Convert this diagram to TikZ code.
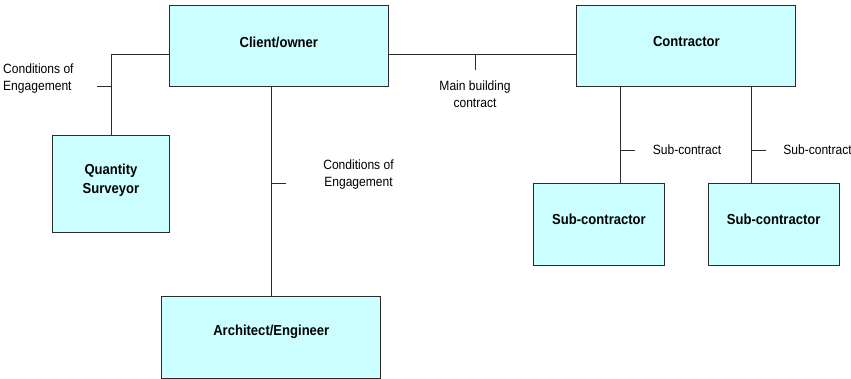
\documentclass[tikz,border=0pt]{standalone}
\usepackage{fontspec}
\setmainfont{Liberation Sans}[FakeStretch=0.9]
\usetikzlibrary{calc}
\definecolor{boxfill}{HTML}{CCFFFF}
\definecolor{inkline}{HTML}{2B2B2B}
\begin{document}
\begin{tikzpicture}[x=1pt,y=-1pt,
  party/.style={draw=inkline,line width=1pt,fill=boxfill,rectangle,inner sep=0pt},
  partytext/.style={font=\fontsize{14.5}{18.5}\selectfont\bfseries,align=center,inner sep=0pt},
  linkline/.style={draw=inkline,line width=0.9pt},
  linktext/.style={font=\fontsize{13.4}{16.5}\selectfont,align=center,inner sep=0pt}]
\useasboundingbox (0,0) rectangle (851,379);

% parties
\node[party,minimum width=219pt,minimum height=81pt] (client) at (278.8,46.2) {};
\node[party,minimum width=219pt,minimum height=81pt] (contractor) at (686.4,46.2) {};
\node[party,minimum width=116.6pt,minimum height=97.3pt] (qs) at (111,183.7) {};
\node[party,minimum width=218.7pt,minimum height=81.3pt] (arch) at (271.3,337.4) {};
\node[party,minimum width=131.4pt,minimum height=81.7pt] (sub1) at (599,224.2) {};
\node[party,minimum width=131.4pt,minimum height=81.7pt] (sub2) at (773.7,224.2) {};

\node[partytext] (clientname) at (278.8,42) {Client/owner};
\node[partytext] (contractorname) at (686.4,42) {Contractor};
\node[partytext] (qsname) at (111,180.5) {Quantity\\Surveyor};
\node[partytext] (archname) at (271.3,332) {Architect/Engineer};
\node[partytext] (sub1name) at (599,219.5) {Sub-contractor};
\node[partytext] (sub2name) at (773.7,219.5) {Sub-contractor};

% client -- quantity surveyor
\draw[linkline] ([yshift=-7.8pt]client.west) -| (qs.north);
\coordinate (qstick) at (111,86.7);
\draw[linkline] (qstick) -- ++(-14.3,0);
\node[linktext,align=left,anchor=west] (qslink) at (3,78.5) {Conditions of\\Engagement};

% client -- architect/engineer
\draw[linkline] (arch.north |- client.south) -- (arch.north);
\coordinate (archtick) at (271.3,183.5);
\draw[linkline] (archtick) -- ++(14.7,0);
\node[linktext] (archlink) at (358.5,174.5) {Conditions of\\Engagement};

% client -- contractor
\draw[linkline] ([yshift=-7.8pt]client.east) -- ([yshift=-7.8pt]contractor.west);
\coordinate (maintick) at (475,54);
\draw[linkline] (maintick) -- ++(0,15.8);
\node[linktext] (mainlink) at (475,94) {Main building\\contract};

% contractor -- sub-contractors
\draw[linkline] ([xshift=21.5pt]sub1.north |- contractor.south) -- ([xshift=21.5pt]sub1.north);
\draw[linkline] ([xshift=-22pt]sub2.north |- contractor.south) -- ([xshift=-22pt]sub2.north);
\coordinate (sub1tick) at (620.5,150.5);
\coordinate (sub2tick) at (751.7,150.5);
\draw[linkline] (sub1tick) -- ++(14.5,0);
\draw[linkline] (sub2tick) -- ++(14.5,0);
\node[linktext] (sub1link) at (687,150) {Sub-contract};
\node[linktext] (sub2link) at (817.5,150) {Sub-contract};
\end{tikzpicture}
\end{document}
